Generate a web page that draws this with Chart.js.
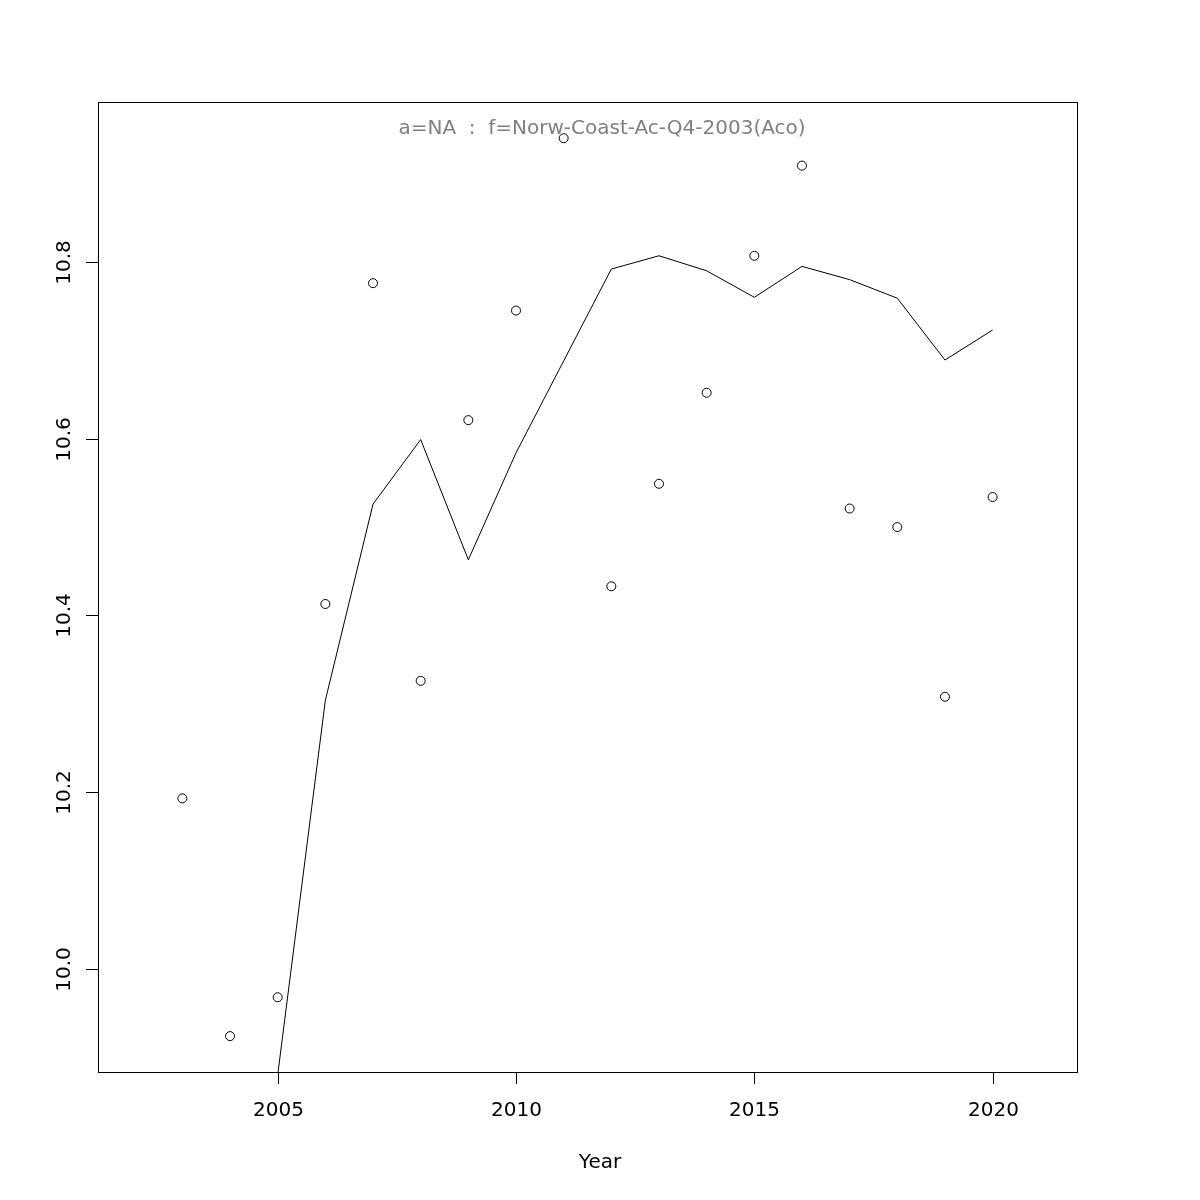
<!DOCTYPE html>
<html>
<head>
<meta charset="utf-8">
<script src="https://cdn.jsdelivr.net/npm/chart.js@4.4.1/dist/chart.umd.min.js"></script>
<style>
  html, body { margin: 0; padding: 0; background: #fff; }
  canvas { display: block; }
</style>
</head>
<body>
<canvas id="myChart" width="1200" height="1200"></canvas>
<script>
const years = [2003, 2004, 2005, 2006, 2007, 2008, 2009, 2010, 2011, 2012, 2013, 2014, 2015, 2016, 2017, 2018, 2019, 2020]
// observed values (circles)
const obsValues = [10.193, 9.924, 9.968, 10.413, 10.776, 10.326, 10.621, 10.745, 10.940, 10.433, 10.549, 10.652, 10.807, 10.909, 10.521, 10.500, 10.308, 10.534]
// fitted values (line)
const fitValues = [null, null, 9.880, 10.304, 10.526, 10.599, 10.463, 10.584, 10.688, 10.792, 10.807, 10.790, 10.760, 10.795, 10.780, 10.759, 10.689, 10.723]
const xTicks = [2005, 2010, 2015, 2020]
const yTicks = [10.0, 10.2, 10.4, 10.6, 10.8]
const yTickLabels = ['10.0', '10.2', '10.4', '10.6', '10.8']
const title = 'a=NA  :  f=Norw-Coast-Ac-Q4-2003(Aco)'
const xTitle = 'Year'

const font = '20px "DejaVu Sans", sans-serif'

const rAxes = {
    id: 'rAxes',
    afterDraw(chart) {
        const c = chart.ctx
        const a = chart.chartArea
        const xs = chart.scales.x
        const ys = chart.scales.y
        c.save()
        c.strokeStyle = '#000'
        c.lineWidth = 1
        c.strokeRect(a.left + 0.5, a.top + 0.5, a.right - a.left, a.bottom - a.top)
        c.fillStyle = '#000'
        c.font = font
        // x axis
        c.textAlign = 'center'
        c.textBaseline = 'middle'
        xTicks.forEach(v => {
            const px = Math.round(xs.getPixelForValue(v)) + 0.5
            c.beginPath()
            c.moveTo(px, a.bottom)
            c.lineTo(px, a.bottom + 12)
            c.stroke()
            c.fillText(String(v), px, 1111)
        })
        c.fillText(xTitle, 600, 1163)
        // y axis
        yTicks.forEach((v, i) => {
            const py = Math.round(ys.getPixelForValue(v)) + 0.5
            c.beginPath()
            c.moveTo(a.left, py)
            c.lineTo(a.left - 12, py)
            c.stroke()
            c.save()
            c.translate(65, py)
            c.rotate(-Math.PI / 2)
            c.fillText(yTickLabels[i], 0, 0)
            c.restore()
        })
        // title
        c.fillStyle = '#808080'
        c.fillText(title, 602, 129)
        c.restore()
    }
}

new Chart(document.getElementById('myChart'), {
    type: 'scatter',
    data: {
        datasets: [{
            label: 'fit',
            data: years.map((y, i) => ({ x: y, y: fitValues[i] })),
            showLine: true,
            borderColor: '#000',
            borderWidth: 1,
            pointRadius: 0,
            clip: 0
        }, {
            label: 'obs',
            data: years.map((y, i) => ({ x: y, y: obsValues[i] })),
            showLine: false,
            pointStyle: 'circle',
            pointRadius: 4.5,
            pointBorderWidth: 1,
            pointBorderColor: '#000',
            pointBackgroundColor: 'rgba(0,0,0,0)'
        }]
    },
    options: {
        responsive: false,
        animation: false,
        devicePixelRatio: 1,
        layout: { padding: { left: 98, top: 102, right: 123, bottom: 128 } },
        plugins: { legend: { display: false }, tooltip: { enabled: false } },
        scales: {
            x: { type: 'linear', min: 2001.23, max: 2021.77, display: false },
            y: { type: 'linear', min: 9.8834, max: 10.981, display: false }
        }
    },
    plugins: [rAxes]
});
</script>
</body>
</html>
